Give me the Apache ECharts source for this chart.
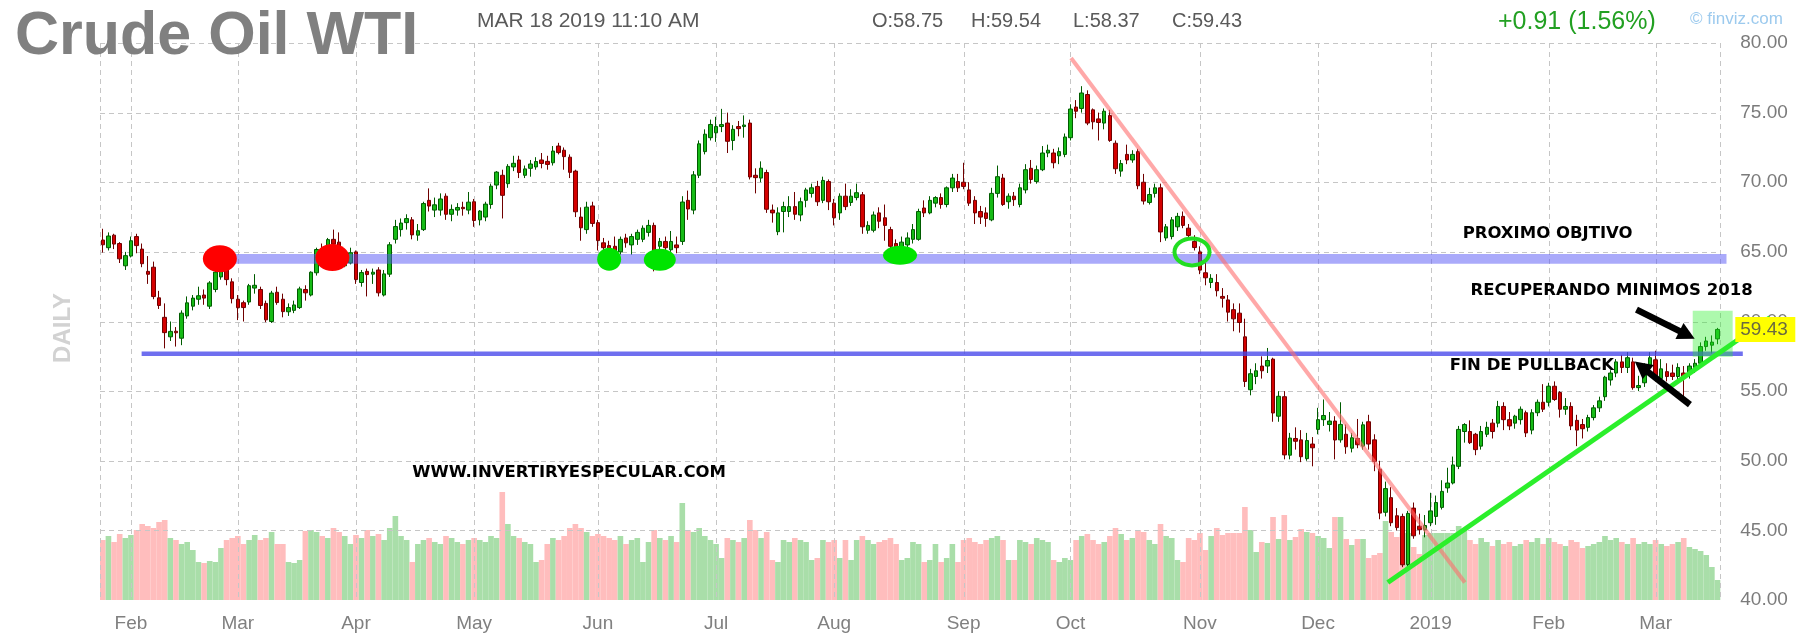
<!DOCTYPE html>
<html><head><meta charset="utf-8">
<script src="https://cdn.jsdelivr.net/npm/echarts@6/dist/echarts.min.js"></script>
<style>html,body{margin:0;padding:0;background:#fff}#chart{width:1810px;height:640px}</style>
</head><body><div id="chart"></div>
<script>
// ---------- DATA ----------
const tradingDays = {
  '2018-01': [25,26,29,30,31],
  '2018-02': [1,2,5,6,7,8,9,12,13,14,15,16,20,21,22,23,26,27,28],
  '2018-03': [1,2,5,6,7,8,9,12,13,14,15,16,19,20,21,22,23,26,27,28,29],
  '2018-04': [2,3,4,5,6,9,10,11,12,13,16,17,18,19,20,23,24,25,26,27,30],
  '2018-05': [1,2,3,4,7,8,9,10,11,14,15,16,17,18,21,22,23,24,25,29,30,31],
  '2018-06': [1,4,5,6,7,8,11,12,13,14,15,18,19,20,21,22,25,26,27,28,29],
  '2018-07': [2,3,5,6,9,10,11,12,13,16,17,18,19,20,23,24,25,26,27,30,31],
  '2018-08': [1,2,3,6,7,8,9,10,13,14,15,16,17,20,21,22,23,24,27,28,29,30,31],
  '2018-09': [4,5,6,7,10,11,12,13,14,17,18,19,20,21,24,25,26,27,28],
  '2018-10': [1,2,3,4,5,8,9,10,11,12,15,16,17,18,19,22,23,24,25,26,29,30,31],
  '2018-11': [1,2,5,6,7,8,9,12,13,14,15,16,19,20,21,23,26,27,28,29,30],
  '2018-12': [3,4,5,6,7,10,11,12,13,14,17,18,19,20,21,24,26,27,28,31],
  '2019-01': [2,3,4,7,8,9,10,11,14,15,16,17,18,22,23,24,25,28,29,30,31],
  '2019-02': [1,4,5,6,7,8,11,12,13,14,15,19,20,21,22,25,26,27,28],
  '2019-03': [1,4,5,6,7,8,11,12,13,14,15,18]
};
const monthNames = ['Jan','Feb','Mar','Apr','May','Jun','Jul','Aug','Sep','Oct','Nov','Dec'];

const openP = [
 65.85,65.30,66.20,65.60,64.00,
 64.70,66.10,65.20,63.60,63.90,61.70,60.30,58.90,59.30,58.80,60.40,61.10,61.60,61.90,61.10,62.30,63.20,63.70,62.85,
 61.60,61.35,61.40,62.40,62.30,61.30,60.00,62.10,61.60,60.70,60.80,61.00,62.30,61.90,63.50,65.20,64.40,65.90,65.70,64.00,64.20,
 65.00,62.80,63.60,63.40,63.70,61.90,63.40,65.90,66.60,67.10,67.30,66.20,66.60,68.70,68.00,68.00,69.00,67.70,68.00,68.20,68.00,
 68.60,67.30,67.50,68.40,69.80,70.50,69.90,71.10,71.60,70.50,71.00,71.10,71.60,71.50,71.40,72.60,72.30,71.80,70.80,67.50,66.60,68.30,
 67.10,65.65,65.45,65.40,65.00,66.00,65.50,65.90,65.90,66.40,66.90,65.40,65.75,65.15,65.50,65.75,68.70,68.00,70.50,72.20,73.20,
 73.55,74.00,74.25,73.00,74.00,74.00,74.25,70.50,70.30,70.70,68.00,66.45,67.90,67.90,68.25,67.65,68.70,69.20,69.70,68.70,70.05,
 68.50,67.80,69.00,68.55,68.90,69.10,66.55,66.55,67.80,67.45,66.60,65.60,65.30,65.50,65.90,65.90,68.15,67.80,68.50,68.90,68.40,69.60,70.05,
 70.00,69.45,68.70,67.90,67.80,67.30,69.20,70.30,68.60,69.00,68.40,69.45,71.00,70.05,70.90,72.10,72.10,71.90,72.00,
 73.20,75.40,75.30,76.30,75.20,74.55,74.25,74.80,72.80,70.80,72.00,71.60,72.20,70.00,68.55,69.20,69.60,66.00,66.10,66.80,67.55,66.70,65.75,
 65.00,63.50,62.80,62.80,61.80,61.55,60.85,60.60,58.90,55.10,56.05,56.80,56.80,57.30,53.20,54.60,50.40,51.60,51.50,50.15,51.20,
 52.25,52.95,52.60,52.85,51.50,51.90,50.90,51.60,51.05,52.80,51.50,49.40,46.30,47.35,46.05,46.00,42.55,46.60,45.30,45.05,
 45.55,46.00,46.65,48.05,48.40,49.60,52.10,52.10,51.90,51.05,51.90,52.70,52.70,53.90,52.95,52.70,52.95,53.45,52.20,53.45,54.20,
 54.20,55.35,54.90,53.70,53.90,52.90,52.60,52.40,53.10,53.80,54.60,55.80,56.30,57.10,56.70,57.10,55.25,55.60,56.80,
 57.25,55.90,56.40,56.30,56.05,56.30,56.30,56.70,57.00,58.20,58.30,58.75
];
const highP = [
 66.66,66.40,66.30,65.70,65.00,
 66.10,66.30,65.60,64.70,64.30,62.20,61.30,60.00,59.60,60.80,61.80,61.90,62.50,62.30,62.90,63.70,64.00,64.20,63.10,
 61.90,61.50,62.70,63.40,62.50,61.50,62.20,62.50,62.00,61.30,61.50,62.50,62.60,63.60,65.30,65.60,66.00,66.60,66.40,64.80,65.30,
 65.10,63.70,63.80,63.80,63.90,63.70,65.70,67.30,67.40,67.70,67.50,67.00,68.60,69.56,68.90,69.20,69.20,68.40,68.50,68.60,69.30,
 68.80,68.00,68.60,69.90,70.80,70.90,71.30,71.90,71.90,71.20,71.60,71.80,72.10,71.90,72.60,72.83,72.50,72.00,70.90,68.20,68.60,68.60,
 67.30,66.00,65.80,66.10,66.10,66.30,66.30,66.60,66.90,67.30,67.10,66.00,66.10,66.50,66.10,69.00,69.40,70.80,73.00,73.80,74.50,
 74.70,75.27,75.00,74.10,74.40,74.80,74.50,71.00,71.50,70.90,68.40,68.20,68.60,69.00,69.30,68.90,69.60,69.90,70.10,70.40,70.20,
 68.80,69.20,69.90,69.50,69.90,69.30,67.20,67.90,68.20,68.40,66.80,65.90,66.10,66.40,67.00,68.10,68.70,69.00,69.00,69.20,69.70,70.60,70.60,
 71.40,70.00,69.00,68.30,68.20,69.60,71.20,70.60,69.20,69.30,69.90,71.30,71.60,71.20,72.60,72.70,72.40,72.50,73.50,
 75.60,75.90,76.90,76.60,75.30,75.00,75.30,75.20,73.00,71.60,72.70,72.30,72.40,70.60,69.60,69.90,69.90,67.00,67.50,67.80,67.90,67.00,66.20,
 65.40,64.20,63.40,63.40,62.40,61.90,61.30,61.30,60.20,56.60,57.00,57.50,58.10,57.40,55.00,55.00,52.00,52.40,52.20,52.00,51.70,
 53.80,54.40,53.50,53.20,54.20,52.60,52.00,53.00,52.80,53.30,51.90,50.00,48.50,48.10,46.60,46.20,46.40,47.00,46.20,46.10,
 47.70,47.50,48.60,49.50,50.30,52.50,52.70,52.90,52.00,52.50,52.80,53.00,54.30,54.20,53.50,53.30,53.90,53.60,53.70,54.40,55.50,
 55.60,55.70,55.00,54.50,54.20,53.30,53.00,53.30,54.00,54.60,56.10,56.50,57.30,57.60,57.80,57.40,56.10,57.00,57.80,
 57.90,57.30,57.00,56.90,57.00,56.80,57.00,57.30,58.50,58.90,59.00,59.54
];
const lowP = [
 64.95,65.10,65.20,64.20,63.70,
 64.60,64.90,63.90,62.70,61.60,60.90,58.07,58.60,58.20,58.30,60.20,60.80,61.20,61.20,60.90,62.10,63.00,62.60,61.30,
 60.10,60.00,61.20,62.00,60.90,59.95,59.90,61.20,60.30,60.40,60.60,60.90,61.50,61.80,63.30,64.20,64.20,65.00,64.10,63.90,64.10,
 62.70,62.50,61.80,62.70,61.80,61.80,63.20,65.60,66.10,66.60,65.90,65.80,66.50,67.90,67.50,67.60,67.30,67.20,67.60,67.60,67.70,
 66.80,66.90,67.20,68.10,69.50,67.40,69.60,70.80,70.30,70.30,70.40,70.90,71.00,70.90,71.20,72.00,70.90,70.30,67.50,65.80,66.30,66.80,
 65.10,64.50,64.60,64.70,64.80,65.30,64.80,65.50,65.70,66.10,63.60,64.00,64.90,65.00,64.90,65.50,67.30,67.70,70.30,72.00,73.00,
 72.90,73.60,72.10,72.30,73.30,73.20,70.20,69.20,70.00,67.80,67.10,66.20,66.40,67.50,67.30,67.20,68.20,68.90,68.30,68.50,68.00,
 66.90,67.30,68.00,68.30,68.70,66.30,66.30,66.40,66.70,65.80,64.50,64.50,64.90,65.30,65.60,65.80,67.50,67.70,68.20,68.10,68.20,69.30,69.30,
 69.50,68.30,67.00,67.00,66.80,67.20,68.90,68.30,68.10,68.30,68.20,69.20,69.90,69.90,70.80,71.80,71.00,71.30,71.80,
 73.00,74.60,75.00,74.10,73.80,73.00,73.80,72.90,70.60,70.40,71.30,71.40,69.50,68.40,68.40,68.90,65.70,65.80,65.90,66.50,66.70,65.90,65.10,
 63.40,62.60,62.40,61.80,61.00,60.00,59.30,59.20,55.30,54.70,55.50,55.90,56.30,52.80,52.80,50.10,50.10,50.80,49.90,50.00,49.60,
 51.90,52.50,52.10,50.10,51.30,50.50,50.60,50.90,50.80,50.80,49.25,45.80,46.00,45.30,45.00,42.36,42.40,44.40,44.70,44.50,
 45.30,45.40,46.50,47.70,48.30,49.40,51.30,51.20,50.40,50.80,51.70,51.60,52.40,52.20,52.20,52.30,52.60,51.70,51.90,53.20,53.50,
 53.90,54.30,53.10,53.30,52.20,51.05,51.60,52.10,52.90,53.50,54.30,55.40,56.00,56.30,56.30,55.10,55.00,55.30,56.50,
 55.70,55.60,55.70,55.80,55.70,54.60,55.90,56.30,56.80,57.90,57.70,58.37
];
const closeP = [
 65.51,66.14,65.56,64.50,64.73,
 65.80,65.45,64.15,63.39,61.79,61.15,59.20,59.29,59.19,60.60,61.34,61.68,61.85,61.68,62.77,63.55,63.91,63.01,61.64,
 60.99,61.00,62.57,62.60,61.15,60.12,62.04,61.36,60.71,61.00,61.19,62.34,62.06,63.54,65.17,64.30,65.88,65.55,64.25,64.38,64.94,
 63.01,63.51,63.37,63.54,62.06,63.42,65.51,66.82,67.07,67.39,66.22,66.52,68.47,68.29,68.38,68.80,67.70,68.05,68.19,68.10,68.57,
 67.25,67.93,68.43,69.72,70.73,69.06,71.14,71.36,70.70,70.96,71.31,71.49,71.35,71.28,72.24,72.13,71.84,70.71,67.88,66.73,68.21,67.04,
 65.81,65.30,65.15,65.00,65.90,65.65,66.10,66.40,66.70,66.90,65.06,65.75,65.30,65.75,65.30,68.58,68.08,70.53,72.76,73.45,74.15,
 74.00,74.14,72.94,73.80,73.85,74.11,70.38,70.33,71.01,68.06,67.80,67.80,68.25,68.25,67.70,68.60,69.45,69.60,68.60,70.13,68.60,
 67.45,69.00,68.25,69.00,69.25,66.80,66.90,67.65,67.20,66.90,65.40,65.30,65.70,66.00,66.60,67.90,67.80,68.70,68.90,68.40,69.60,70.30,69.60,
 69.70,68.50,67.80,67.50,67.40,69.20,70.40,68.40,69.00,68.75,69.60,70.90,70.20,70.90,72.10,72.30,71.40,72.20,73.25,
 75.26,75.10,76.41,74.25,74.34,74.29,75.10,73.00,70.97,71.34,71.60,72.00,69.75,68.65,69.12,69.60,66.43,66.80,67.30,67.55,66.90,66.18,65.31,
 63.69,63.14,63.10,62.21,61.67,60.67,60.19,59.93,55.69,56.25,56.46,56.46,57.20,53.43,54.63,50.42,51.63,51.40,50.29,51.45,50.93,
 52.95,53.25,52.85,51.49,52.61,51.00,51.65,51.15,52.58,51.20,49.95,46.24,48.00,45.55,45.20,42.53,46.22,44.61,45.05,45.35,
 46.40,47.00,47.80,48.40,49.70,52.25,52.60,51.30,50.80,52.10,52.40,52.10,53.90,52.95,52.50,53.20,53.70,52.00,53.45,54.20,53.70,
 55.35,54.40,53.70,53.90,52.50,52.20,52.30,53.10,53.80,54.30,56.00,56.30,57.10,56.70,57.40,55.25,55.40,56.80,57.40,
 55.95,56.60,56.05,56.05,56.70,55.95,56.80,57.00,58.20,58.60,58.52,59.43
];
// volume, thousands of contracts
const volumeK = [
 600,640,580,660,620,
 650,700,760,740,720,780,800,620,600,560,580,500,380,370,390,380,520,600,620,
 640,560,600,650,600,620,680,560,560,380,370,400,690,700,680,640,620,720,680,640,560,
 650,620,700,640,660,600,720,840,640,600,380,560,600,620,580,560,640,620,580,560,600,
 620,600,580,640,620,1080,760,640,620,580,560,380,400,560,620,600,640,720,760,720,680,640,
 660,640,620,600,640,560,600,620,380,580,700,620,600,640,580,970,700,680,720,640,600,
 560,420,620,600,580,620,800,700,620,680,400,380,600,580,620,600,580,400,420,600,580,
 600,420,600,400,600,640,600,560,580,600,620,560,400,420,580,560,380,400,560,380,420,560,380,
 600,620,580,560,600,620,640,600,400,400,600,580,560,620,600,580,400,380,420,
 400,600,640,660,600,560,580,640,720,660,600,620,700,680,600,560,760,640,620,400,380,620,600,
 670,500,640,720,650,670,670,670,930,700,480,580,570,830,610,850,600,630,710,680,670,
 640,620,520,830,830,610,550,610,610,420,450,470,790,680,630,670,670,530,460,650,
 670,670,670,670,670,740,710,600,560,620,580,540,600,560,580,540,560,600,580,620,560,
 620,580,560,540,600,580,520,540,560,580,640,600,620,580,560,620,560,580,560,
 600,560,540,560,580,620,530,510,490,450,330,200
];
const priceTicks = [40,45,50,55,60,65,70,75,80];

// annotations in data coordinates: [bar index, price]
const resistanceBand = {from: 19.9, to: 288.6, lo: 64.15, hi: 64.85};
const supportLine = {from: 6.9, to: 291.5, lo: 57.53, hi: 57.85};
const downTrend = [[172.1, 78.92], [242.1, 41.26]];
const upTrend = [[228.4, 41.26], [296.3, 60.27]];
const redMarks = [[20.8, 64.5], [40.8, 64.6]];
const greenMarks = [[90.0, 64.47], [99.0, 64.43], [141.7, 64.75]];
const ringMark = [193.6, 65.0];
const breakoutBox = {from: 282.6, to: 289.7, lo: 57.47, hi: 60.77};
const arrows = [[[272.6, 60.85], [282.95, 58.77]], [[282.1, 54.03], [272.3, 57.12]]];
const notes = [
  {text: 'PROXIMO OBJTIVO', at: [241.7, 66.28]},
  {text: 'RECUPERANDO MINIMOS 2018', at: [243.1, 62.21]},
  {text: 'FIN DE PULLBACK', at: [239.4, 56.83]},
  {text: 'WWW.INVERTIRYESPECULAR.COM', at: [55.0, 49.13]}
];

// ---------- BUILD ----------
const dates = Object.entries(tradingDays).flatMap(([m, ds]) => ds.map(d => m + '-' + String(d).padStart(2, '0')));
const n = dates.length;
const monthStarts = new Set();
dates.forEach((d, i) => { if (i > 0 && d.slice(0, 7) !== dates[i - 1].slice(0, 7)) monthStarts.add(i); });
const candleData = dates.map((d, i) => [openP[i], closeP[i], lowP[i], highP[i]]);
const volData = dates.map((d, i) => ({
  value: volumeK[i],
  itemStyle: {color: closeP[i] >= openP[i] ? '#a9dea9' : '#ffbdbd'}
}));

const FONT = 'Liberation Sans, Arial, sans-serif';
const chart = echarts.init(document.getElementById('chart'));
chart.setOption({
  animation: false,
  backgroundColor: '#ffffff',
  grid: {left: 100, right: 89.7, top: 43, bottom: 40},
  xAxis: {
    type: 'category', data: dates, boundaryGap: true,
    axisLine: {show: false}, axisTick: {show: false}, splitLine: {show: false},
    axisLabel: {
      interval: (i) => monthStarts.has(i),
      formatter: (v) => { const m = +v.slice(5, 7); return m === 1 ? v.slice(0, 4) : monthNames[m - 1]; },
      fontSize: 19, color: '#808080', margin: 14, fontFamily: FONT, hideOverlap: false
    }
  },
  yAxis: [
    {type: 'value', position: 'right', min: 40, max: 80, interval: 5,
     axisLine: {show: false}, axisTick: {show: false}, splitLine: {show: false},
     axisLabel: {formatter: v => v.toFixed(2), fontSize: 19, color: '#7b7b7b', margin: 20, fontFamily: FONT}},
    {type: 'value', min: 0, max: 5570, show: false, splitLine: {show: false}}
  ],
  series: [
    {type: 'bar', yAxisIndex: 1, data: volData, barCategoryGap: '0%', z: 1, silent: true},
    {type: 'candlestick', data: candleData, barWidth: 4, z: 3, silent: true,
     itemStyle: {color: '#16bb16', color0: '#d40000', borderColor: '#005c00', borderColor0: '#700000', borderWidth: 1}}
  ]
});

// pixel helpers through the chart's own scales
const x0 = chart.convertToPixel({xAxisIndex: 0}, dates[0]);
const x1 = chart.convertToPixel({xAxisIndex: 0}, dates[1]);
const step = x1 - x0;
const X = i => x0 + i * step;
const Y = v => chart.convertToPixel({yAxisIndex: 0}, v);
const gl = X(-0.5), gr = X(n - 0.5), gt = Y(80), gb = Y(40);

const els = [];
const dash = {stroke: '#c6c6c6', lineWidth: 1, lineDash: [5, 4]};
priceTicks.filter(v => v > 40).forEach(v => {
  const y = Math.round(Y(v)) + 0.5;
  els.push({type: 'line', z: 2, silent: true, shape: {x1: gl, y1: y, x2: gr, y2: y}, style: dash});
});
[gl, gr, ...[...monthStarts].map(i => X(i))].forEach(x => {
  const xx = Math.round(x) + 0.5;
  els.push({type: 'line', z: 2, silent: true, shape: {x1: xx, y1: gt, x2: xx, y2: gb}, style: dash});
});

// levels
els.push({type: 'rect', z: 10, shape: {x: X(resistanceBand.from), y: Y(resistanceBand.hi), width: X(resistanceBand.to) - X(resistanceBand.from), height: Y(resistanceBand.lo) - Y(resistanceBand.hi)}, style: {fill: 'rgba(85,85,245,0.5)'}});
els.push({type: 'rect', z: 10, shape: {x: X(supportLine.from), y: Y(supportLine.hi), width: X(supportLine.to) - X(supportLine.from), height: Y(supportLine.lo) - Y(supportLine.hi)}, style: {fill: 'rgba(70,70,235,0.78)'}});
els.push({type: 'rect', z: 11, shape: {x: X(breakoutBox.from), y: Y(breakoutBox.hi), width: X(breakoutBox.to) - X(breakoutBox.from), height: Y(breakoutBox.lo) - Y(breakoutBox.hi)}, style: {fill: 'rgba(40,240,40,0.38)'}});
els.push({type: 'line', z: 11, shape: {x1: X(downTrend[0][0]), y1: Y(downTrend[0][1]), x2: X(downTrend[1][0]), y2: Y(downTrend[1][1])}, style: {stroke: 'rgba(255,110,110,0.6)', lineWidth: 4}});
redMarks.forEach(p => els.push({type: 'ellipse', z: 12, shape: {cx: X(p[0]), cy: Y(p[1]), rx: 17, ry: 13.5}, style: {fill: '#ff0000'}}));
const gsz = [[12, 11.5], [16, 11], [17, 9.5]];
greenMarks.forEach((p, k) => els.push({type: 'ellipse', z: 12, shape: {cx: X(p[0]), cy: Y(p[1]), rx: gsz[k][0], ry: gsz[k][1]}, style: {fill: '#00e400'}}));
els.push({type: 'ellipse', z: 12, shape: {cx: X(ringMark[0]), cy: Y(ringMark[1]), rx: 17.5, ry: 13.5}, style: {fill: 'none', stroke: '#22dd22', lineWidth: 4}});
els.push({type: 'line', z: 13, shape: {x1: X(upTrend[0][0]), y1: Y(upTrend[0][1]), x2: X(upTrend[1][0]), y2: Y(upTrend[1][1])}, style: {stroke: '#2bef2b', lineWidth: 5}});
arrows.forEach(([t, h]) => {
  const tx = X(t[0]), ty = Y(t[1]), hx = X(h[0]), hy = Y(h[1]);
  const dx = hx - tx, dy = hy - ty, L = Math.hypot(dx, dy), ux = dx / L, uy = dy / L;
  const hl = 17, hw = 9, bx = hx - ux * hl, by = hy - uy * hl;
  els.push({type: 'line', z: 14, shape: {x1: tx, y1: ty, x2: bx + ux * 3, y2: by + uy * 3}, style: {stroke: '#000', lineWidth: 6.5}});
  els.push({type: 'polygon', z: 14, shape: {points: [[hx, hy], [bx - uy * hw, by + ux * hw], [bx + uy * hw, by - ux * hw]]}, style: {fill: '#000'}});
});
notes.forEach(nt => els.push({type: 'text', z: 15, x: X(nt.at[0]), y: Y(nt.at[1]),
  style: {text: nt.text, fontSize: 16.5, fontWeight: 'bold', fontFamily: 'DejaVu Sans', fill: '#000', align: 'left', textAlign: 'left', verticalAlign: 'middle', textVerticalAlign: 'middle'}}));

// last price tag
const last = n - 1;
const yl = Y(closeP[last]);
els.push({type: 'rect', z: 15, shape: {x: gr + 15, y: yl - 12.5, width: 60, height: 25}, style: {fill: '#ffff00'}});
els.push({type: 'text', z: 16, x: gr + 20, y: yl, style: {text: closeP[last].toFixed(2), fontSize: 19, fontFamily: FONT, fill: '#6a6a40', align: 'left', textAlign: 'left', verticalAlign: 'middle', textVerticalAlign: 'middle'}});

// header
const hdr = (text, x, y, size, fill, weight) => els.push({type: 'text', z: 20, x, y,
  style: {text, fontSize: size, fontFamily: FONT, fontWeight: weight || 'normal', fill, align: 'left', textAlign: 'left', verticalAlign: 'middle', textVerticalAlign: 'middle'}});
hdr('Crude Oil WTI', 15, 37, 61, '#808080', 'bold');
hdr('MAR 18 2019 11:10 AM', 477, 21, 21, '#5a5a5a');
hdr('O:' + openP[last].toFixed(2), 872, 21, 20, '#5a5a5a');
hdr('H:' + highP[last].toFixed(2), 971, 21, 20, '#5a5a5a');
hdr('L:' + lowP[last].toFixed(2), 1073, 21, 20, '#5a5a5a');
hdr('C:' + closeP[last].toFixed(2), 1172, 21, 20, '#5a5a5a');
const chg = closeP[last] - closeP[last - 1];
hdr((chg >= 0 ? '+' : '') + chg.toFixed(2) + ' (' + (chg / closeP[last - 1] * 100).toFixed(2) + '%)', 1498, 22, 25, '#22a022');
hdr('\u00a9 finviz.com', 1690, 19, 17, '#9ccaee');
els.push({type: 'text', z: 20, x: 63, y: 328, rotation: Math.PI / 2,
  style: {text: 'DAILY', fontSize: 24, fontWeight: 'bold', fontFamily: FONT, fill: '#d2d2d2', align: 'center', textAlign: 'center', verticalAlign: 'middle', textVerticalAlign: 'middle'}});

chart.setOption({graphic: {elements: els}});
</script></body></html>
